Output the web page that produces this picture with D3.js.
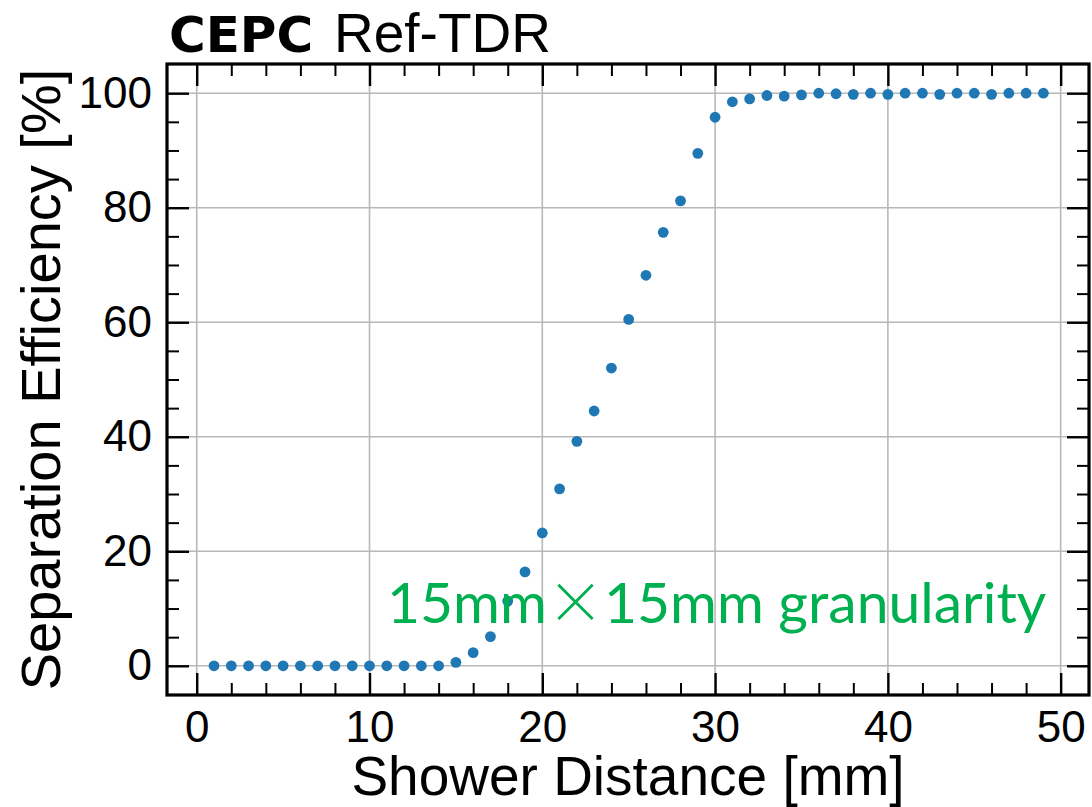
<!DOCTYPE html>
<html>
<head>
<meta charset="utf-8">
<script src="https://cdn.jsdelivr.net/npm/d3@7"></script>
<style>
  html, body { margin: 0; padding: 0; background: #fff; }
  svg { display: block; }
</style>
</head>
<body>
<svg id="chart" width="1092" height="807"></svg>
<script>
// ---- data ----
const distance = [1,2,3,4,5,6,7,8,9,10,11,12,13,14,15,16,17,18,19,20,21,22,23,24,25,
                  26,27,28,29,30,31,32,33,34,35,36,37,38,39,40,41,42,43,44,45,46,47,48,49];
const efficiency = [0,0,0,0,0,0,0,0,0,0,0,0,0,0,0.6,2.3,5.1,11.3,16.4,23.2,30.9,39.2,44.5,52.0,60.5,
                    68.2,75.7,81.2,89.5,95.8,98.5,99.0,99.6,99.5,99.7,100.0,99.9,99.8,100.0,99.8,100.0,100.0,99.8,100.0,100.0,99.8,100.0,100.0,100.0];
const xMajorTicks = [0,10,20,30,40,50];
const xMinorTicks = [2,4,6,8,12,14,16,18,22,24,26,28,32,34,36,38,42,44,46,48];
const yMajorTicks = [0,20,40,60,80,100];
const yMinorTicks = [5,10,15,25,30,35,45,50,55,65,70,75,85,90,95];
const xLabel = "Shower Distance [mm]";
const yLabel = "Separation Efficiency [%]";
const titleBold = "CEPC";
const titleRest = "Ref-TDR";
const annotation = ["15mm", "×", "15mm granularity"];

// ---- layout ----
const L = 167, R = 1089, T = 64, B = 695;
const svg = d3.select("#chart");
const x = d3.scaleLinear().domain([-1.72, 51.64]).range([L, R]);
const y = d3.scaleLinear().domain([-5.1, 105.1]).range([B, T]);

svg.append("clipPath").attr("id", "plotclip")
  .append("rect").attr("x", L).attr("y", T).attr("width", R - L).attr("height", B - T);

// grid
const grid = svg.append("g").attr("clip-path", "url(#plotclip)");
grid.selectAll("line.gx").data(xMajorTicks).join("line")
  .attr("x1", d => x(d)).attr("x2", d => x(d)).attr("y1", T).attr("y2", B)
  .attr("stroke", "#b8b8b8").attr("stroke-width", 1.6);
grid.selectAll("line.gy").data(yMajorTicks).join("line")
  .attr("y1", d => y(d)).attr("y2", d => y(d)).attr("x1", L).attr("x2", R)
  .attr("stroke", "#b8b8b8").attr("stroke-width", 1.6);

function styleAxis(g, w) {
  g.select(".domain").remove();
  g.selectAll(".tick line").attr("stroke", "#000").attr("stroke-width", w);
}
const fontTick = "'Liberation Sans', Arial, sans-serif";

const MAJ = 22, MIN = 12;
// bottom
const gxb = svg.append("g").attr("transform", `translate(0,${B})`)
  .call(d3.axisBottom(x).tickValues(xMajorTicks).tickSize(-MAJ).tickPadding(16).tickFormat(d3.format("d")));
styleAxis(gxb, 2.4);
gxb.selectAll(".tick text").attr("font-family", fontTick).attr("font-size", 44).attr("fill", "#000");
const gxbm = svg.append("g").attr("transform", `translate(0,${B})`)
  .call(d3.axisBottom(x).tickValues(xMinorTicks).tickSize(-MIN).tickFormat(""));
styleAxis(gxbm, 2);
// top
const gxt = svg.append("g").attr("transform", `translate(0,${T})`)
  .call(d3.axisTop(x).tickValues(xMajorTicks).tickSize(-MAJ).tickFormat(""));
styleAxis(gxt, 2.4);
const gxtm = svg.append("g").attr("transform", `translate(0,${T})`)
  .call(d3.axisTop(x).tickValues(xMinorTicks).tickSize(-MIN).tickFormat(""));
styleAxis(gxtm, 2);
// left
const gyl = svg.append("g").attr("transform", `translate(${L},0)`)
  .call(d3.axisLeft(y).tickValues(yMajorTicks).tickSize(-MAJ).tickPadding(15).tickFormat(d3.format("d")));
styleAxis(gyl, 2.4);
gyl.selectAll(".tick text").attr("font-family", fontTick).attr("font-size", 44).attr("fill", "#000");
const gylm = svg.append("g").attr("transform", `translate(${L},0)`)
  .call(d3.axisLeft(y).tickValues(yMinorTicks).tickSize(-MIN).tickFormat(""));
styleAxis(gylm, 2);
// right
const gyr = svg.append("g").attr("transform", `translate(${R},0)`)
  .call(d3.axisRight(y).tickValues(yMajorTicks).tickSize(-MAJ).tickFormat(""));
styleAxis(gyr, 2.4);
const gyrm = svg.append("g").attr("transform", `translate(${R},0)`)
  .call(d3.axisRight(y).tickValues(yMinorTicks).tickSize(-MIN).tickFormat(""));
styleAxis(gyrm, 2);

// frame
svg.append("rect").attr("x", L).attr("y", T).attr("width", R - L).attr("height", B - T)
  .attr("fill", "none").attr("stroke", "#000").attr("stroke-width", 3.2);

// points
svg.append("g").selectAll("circle").data(distance.map((d, i) => [d, efficiency[i]])).join("circle")
  .attr("cx", d => x(d[0])).attr("cy", d => y(d[1])).attr("r", 5.4).attr("fill", "#1f77b4");

// annotation
const ann = svg.append("text").attr("x", 387).attr("y", 623)
  .attr("font-family", "Lato, 'Open Sans', sans-serif").attr("font-size", 57).attr("fill", "#00b050");
ann.append("tspan").text(annotation[0]);
ann.append("tspan").attr("font-family", "'Noto Sans CJK JP'").attr("font-weight", 300).text(annotation[1]);
ann.append("tspan").text(annotation[2]);

// axis labels
svg.append("text").attr("x", (L + R) / 2).attr("y", 795).attr("text-anchor", "middle")
  .attr("font-family", fontTick).attr("font-size", 55).attr("fill", "#000").text(xLabel);
svg.append("text").attr("transform", `translate(60,${(T + B) / 2}) rotate(-90)`).attr("text-anchor", "middle")
  .attr("font-family", fontTick).attr("font-size", 56).attr("fill", "#000").text(yLabel);

// title
svg.append("text").attr("x", 169).attr("y", 52).attr("fill", "#000")
  .attr("font-family", "'DejaVu Sans', sans-serif").attr("font-weight", 700).attr("font-size", 50).text(titleBold);
svg.append("text").attr("x", 334).attr("y", 52).attr("fill", "#000")
  .attr("font-family", fontTick).attr("font-size", 55).text(titleRest);
</script>
</body>
</html>
